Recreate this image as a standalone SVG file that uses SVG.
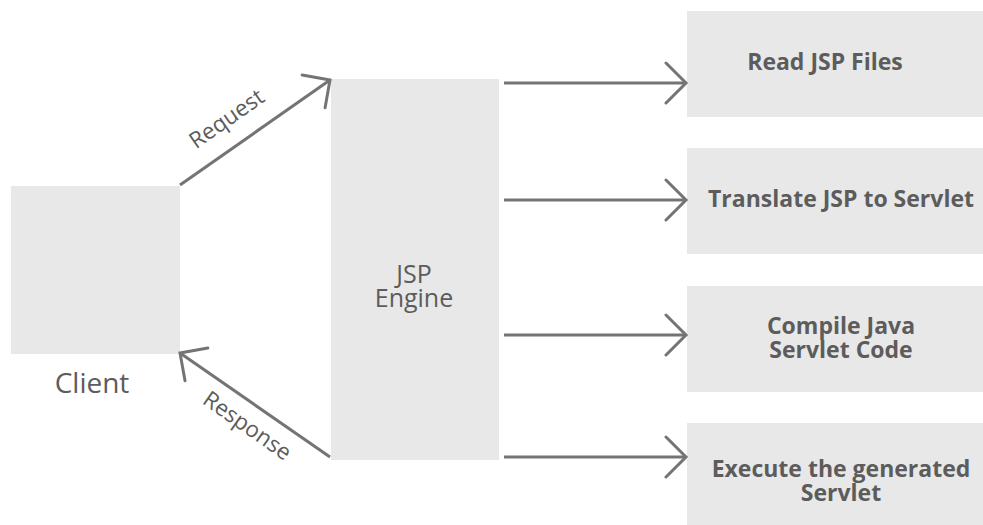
<svg xmlns="http://www.w3.org/2000/svg" width="983" height="525" viewBox="0 0 983 525">
  <style>
    .box { fill: #e8e8e8; }
    .lbl { font-family: "Open Sans", "Noto Sans", "Liberation Sans", sans-serif; fill: #5c5c5c; text-anchor: middle; }
    .step { font-family: "Open Sans", "Noto Sans", "Liberation Sans", sans-serif; fill: #5c5c5c; font-weight: bold; font-size: 23px; text-anchor: middle; }
    .conn { stroke: #747474; stroke-width: 3; fill: none; marker-end: url(#chev); }
  </style>
  <defs>
    <!-- open chevron arrowhead, arms at 45 degrees -->
    <marker id="chev" markerUnits="userSpaceOnUse" markerWidth="30" markerHeight="44" viewBox="-22 -22 26 44" refX="0" refY="0" orient="auto">
      <path d="M -20,-20 L 0,0 L -20,20" fill="none" stroke="#747474" stroke-width="3" stroke-linecap="round"/>
    </marker>
  </defs>
  <rect width="983" height="525" fill="#ffffff"/>

  <g id="client">
    <rect class="box" x="11" y="186" width="169" height="168"/>
    <text class="lbl" x="92" y="393" font-size="28">Client</text>
  </g>

  <g id="jsp-engine">
    <rect class="box" x="331" y="79" width="168" height="381"/>
    <text class="lbl" x="414" y="283" font-size="25">JSP</text>
    <text class="lbl" x="414" y="307" font-size="25">Engine</text>
  </g>

  <g id="read-jsp">
    <rect class="box" x="687" y="11" width="296" height="106"/>
    <text class="step" x="825" y="70">Read JSP Files</text>
  </g>

  <g id="translate">
    <rect class="box" x="687" y="148" width="296" height="106"/>
    <text class="step" x="841" y="207">Translate JSP to Servlet</text>
  </g>

  <g id="compile">
    <rect class="box" x="687" y="286" width="296" height="106"/>
    <text class="step" x="841" y="334">Compile Java</text>
    <text class="step" x="841" y="358">Servlet Code</text>
  </g>

  <g id="execute">
    <rect class="box" x="687" y="423" width="296" height="106"/>
    <text class="step" x="841" y="477">Execute the generated</text>
    <text class="step" x="841" y="501">Servlet</text>
  </g>

  <g id="connectors">
    <line class="conn" x1="180" y1="185" x2="330" y2="80"/>
    <line class="conn" x1="330" y1="457" x2="180" y2="353"/>
    <line class="conn" x1="504" y1="83" x2="686" y2="83"/>
    <line class="conn" x1="504" y1="200" x2="686" y2="200"/>
    <line class="conn" x1="504" y1="335" x2="686" y2="335"/>
    <line class="conn" x1="504" y1="457" x2="686" y2="457"/>
    <text class="lbl" x="231" y="125" font-size="22.5" transform="rotate(-35 231 125)">Request</text>
    <text class="lbl" x="243" y="432" font-size="22.5" transform="rotate(35 243 432)">Response</text>
  </g>
</svg>
